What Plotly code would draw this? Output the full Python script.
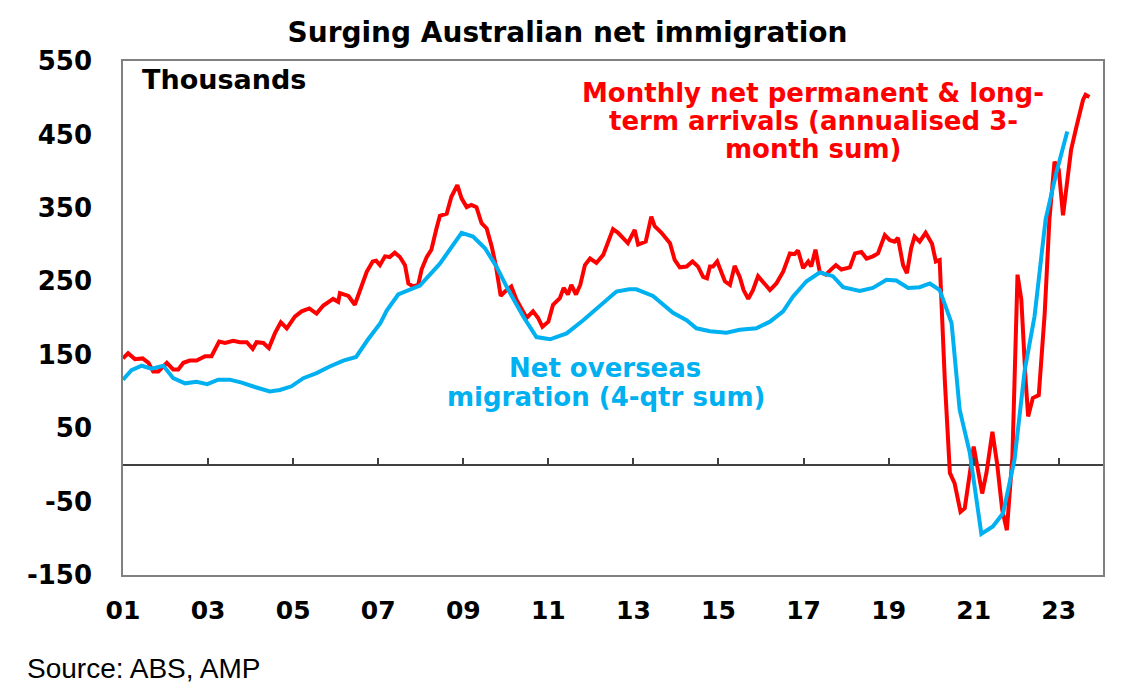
import plotly.graph_objects as go

# monthly net permanent & long-term arrivals (annualised 3-month sum), thousands
red_years = [2001.00, 2001.12, 2001.28, 2001.46, 2001.60, 2001.71, 2001.83, 2002.03, 2002.18, 2002.30,
             2002.42, 2002.57, 2002.73, 2002.93, 2003.08, 2003.26, 2003.40, 2003.59, 2003.75, 2003.91,
             2004.05, 2004.14, 2004.30, 2004.43, 2004.57, 2004.71, 2004.85, 2005.04, 2005.20, 2005.38,
             2005.55, 2005.71, 2005.94, 2006.06, 2006.10, 2006.30, 2006.45, 2006.57, 2006.73, 2006.87,
             2006.95, 2007.04, 2007.16, 2007.27, 2007.39, 2007.51, 2007.63, 2007.71, 2007.82, 2007.94,
             2008.02, 2008.14, 2008.25, 2008.37, 2008.45, 2008.61, 2008.72, 2008.86, 2008.96, 2009.08,
             2009.19, 2009.31, 2009.43, 2009.55, 2009.67, 2009.77, 2009.88, 2009.98, 2010.13, 2010.25,
             2010.37, 2010.49, 2010.64, 2010.76, 2010.86, 2011.00, 2011.11, 2011.27, 2011.36, 2011.46,
             2011.54, 2011.65, 2011.75, 2011.86, 2011.98, 2012.13, 2012.29, 2012.41, 2012.52, 2012.64,
             2012.87, 2013.03, 2013.11, 2013.29, 2013.42, 2013.50, 2013.66, 2013.86, 2013.97, 2014.09,
             2014.25, 2014.39, 2014.52, 2014.64, 2014.73, 2014.80, 2014.87, 2014.97, 2015.07, 2015.15,
             2015.27, 2015.38, 2015.50, 2015.59, 2015.70, 2015.81, 2015.93, 2016.05, 2016.21, 2016.36,
             2016.52, 2016.68, 2016.79, 2016.87, 2016.99, 2017.11, 2017.18, 2017.28, 2017.38, 2017.52,
             2017.66, 2017.76, 2017.89, 2018.09, 2018.21, 2018.36, 2018.48, 2018.63, 2018.75, 2018.91,
             2019.03, 2019.14, 2019.22, 2019.34, 2019.43, 2019.53, 2019.61, 2019.73, 2019.87, 2020.02,
             2020.11, 2020.20, 2020.32, 2020.44, 2020.55, 2020.69, 2020.79, 2020.91, 2021.00, 2021.10,
             2021.20, 2021.30, 2021.44, 2021.55, 2021.67, 2021.78, 2021.91, 2022.03, 2022.12, 2022.22,
             2022.28, 2022.39, 2022.53, 2022.67, 2022.78, 2022.90, 2023.00, 2023.10, 2023.18, 2023.29,
             2023.41, 2023.57, 2023.63, 2023.72]
red_vals = [145, 152, 144, 145, 139, 127, 127, 139, 130, 130,
            139, 142, 142, 148, 148, 168, 166, 169, 167, 167,
            158, 167, 166, 159, 179, 194, 186, 202, 209, 213,
            206, 217, 226, 222, 234, 230, 218, 238, 263, 277,
            278, 272, 284, 283, 289, 283, 272, 247, 243, 245,
            266, 283, 293, 322, 339, 342, 365, 381, 363, 351,
            354, 351, 329, 322, 297, 270, 230, 236, 243, 225,
            211, 200, 209, 200, 188, 195, 218, 227, 241, 232,
            245, 232, 245, 272, 281, 275, 286, 306, 321, 316,
            302, 320, 300, 304, 338, 325, 316, 302, 279, 269,
            270, 277, 270, 256, 254, 270, 270, 277, 263, 250,
            245, 271, 256, 238, 226, 238, 257, 248, 238, 247,
            263, 288, 287, 292, 268, 277, 270, 293, 263, 259,
            266, 272, 266, 269, 288, 290, 281, 284, 288, 313,
            306, 304, 309, 272, 261, 295, 311, 304, 316, 301,
            277, 279, 116, -11, -25, -64, -59, -11, 25, -7,
            -39, -11, 45, 2, -61, -89, 11, 259, 225, 116,
            66, 91, 95, 207, 334, 413, 402, 340, 379, 429,
            459, 497, 504, 501]

# net overseas migration (4-qtr sum), thousands
blue_years = [2001.00, 2001.20, 2001.44, 2001.67, 2001.95, 2002.18, 2002.46, 2002.73, 2002.98, 2003.24,
              2003.51, 2003.79, 2004.10, 2004.45, 2004.69, 2004.96, 2005.24, 2005.55, 2005.86, 2006.18,
              2006.48, 2006.75, 2007.05, 2007.20, 2007.47, 2007.98, 2008.45, 2008.96, 2009.23, 2009.51,
              2009.78, 2010.06, 2010.41, 2010.72, 2011.04, 2011.43, 2011.82, 2012.21, 2012.60, 2012.90,
              2013.07, 2013.46, 2013.93, 2014.25, 2014.48, 2014.80, 2015.19, 2015.50, 2015.89, 2016.21,
              2016.52, 2016.75, 2017.07, 2017.38, 2017.69, 2017.93, 2018.32, 2018.63, 2018.95, 2019.18,
              2019.46, 2019.73, 2019.97, 2020.20, 2020.48, 2020.67, 2020.91, 2021.18, 2021.45, 2021.69,
              2021.96, 2022.20, 2022.43, 2022.69, 2022.94, 2023.20]
blue_vals = [116, 129, 135, 131, 135, 118, 111, 113, 110, 116,
             116, 112, 106, 100, 102, 107, 118, 125, 134, 142,
             147, 170, 193, 210, 232, 244, 274, 316, 311, 295,
             270, 238, 202, 174, 171, 179, 197, 216, 236, 239,
             239, 230, 207, 197, 186, 182, 180, 184, 186, 195,
             209, 229, 250, 262, 257, 242, 237, 241, 252, 251,
             241, 242, 247, 238, 193, 75, 16, -94, -84, -66,
             7, 129, 202, 334, 397, 454]

x_tick_years = [2001, 2003, 2005, 2007, 2009, 2011, 2013, 2015, 2017, 2019, 2021, 2023]
x_tick_labels = ["01", "03", "05", "07", "09", "11", "13", "15", "17", "19", "21", "23"]
y_tick_vals = [-150, -50, 50, 150, 250, 350, 450, 550]
y_tick_labels = ["-150", "-50", "50", "150", "250", "350", "450", "550"]

RED = "#FF0000"
BLUE = "#00B0F0"
BOLD = "DejaVu Sans"

# plot area in pixels: left 123, right 1103, top 61, bottom 575
L, R, T, B = 123, 1103, 61, 575


def px(x, y):
    # pixel position -> paper coords of the plot area
    return (x - L) / (R - L), (B - y) / (B - T)


fig = go.Figure()
fig.add_trace(go.Scatter(x=red_years, y=red_vals, mode="lines",
                         line=dict(color=RED, width=4), hoverinfo="x+y"))
fig.add_trace(go.Scatter(x=blue_years, y=blue_vals, mode="lines", xaxis="x2",
                         line=dict(color=BLUE, width=4), hoverinfo="x+y"))

notes = [
    ("Thousands", 140, 80, "left", "black", BOLD, 27, "bold"),
    ("Monthly net permanent & long-", 813, 93, "center", RED, BOLD, 26, "bold"),
    ("term arrivals (annualised 3-", 813, 121, "center", RED, BOLD, 26, "bold"),
    ("month sum)", 813, 149, "center", RED, BOLD, 26, "bold"),
    ("Net overseas", 605, 368, "center", BLUE, BOLD, 26, "bold"),
    ("migration (4-qtr sum)", 606, 397, "center", BLUE, BOLD, 26, "bold"),
    ("Source: ABS, AMP", 25, 668, "left", "black", "Liberation Sans", 28, "normal"),
]
for text, x, y, anchor, color, family, size, weight in notes:
    ax, ay = px(x, y)
    fig.add_annotation(text=text, x=ax, y=ay, xref="paper", yref="paper",
                       xanchor=anchor, yanchor="middle", showarrow=False,
                       font=dict(family=family, size=size, color=color, weight=weight))

fig.update_layout(
    width=1135, height=700,
    margin=dict(l=L, r=1135 - R, t=T, b=700 - B),
    paper_bgcolor="white", plot_bgcolor="white",
    showlegend=False,
    title=dict(text="Surging Australian net immigration", x=0.5, xref="container",
               y=1 - 32 / 700, yref="container", xanchor="center", yanchor="middle",
               font=dict(family=BOLD, size=28, color="black", weight="bold")),
    xaxis=dict(range=[2001, 2024.04], tickvals=x_tick_years, ticktext=x_tick_labels,
               showgrid=False, zeroline=False, ticks="", showline=True, mirror=True,
               linecolor="#808080", linewidth=1.5, ticklabelstandoff=12,
               tickfont=dict(family=BOLD, size=25, color="black", weight="bold")),
    xaxis2=dict(overlaying="x", matches="x", anchor="free", position=150 / 700,
                side="bottom", tickvals=x_tick_years, ticks="inside", ticklen=7,
                tickwidth=1.5, tickcolor="#404040", showticklabels=False,
                showgrid=False, zeroline=False, showline=False),
    yaxis=dict(range=[-150, 550], tickvals=y_tick_vals, ticktext=y_tick_labels,
               showgrid=False, zeroline=True, zerolinecolor="#404040", zerolinewidth=1.5,
               ticks="", showline=True, mirror=True, linecolor="#808080", linewidth=1.5,
               ticklabelstandoff=24,
               tickfont=dict(family=BOLD, size=26, color="black", weight="bold")),
)

# page has a default body margin; drop it so the figure sits at the window's corner
fig.write_html("out.html", config={"displayModeBar": False},
               post_script="document.body.style.margin='0';")
